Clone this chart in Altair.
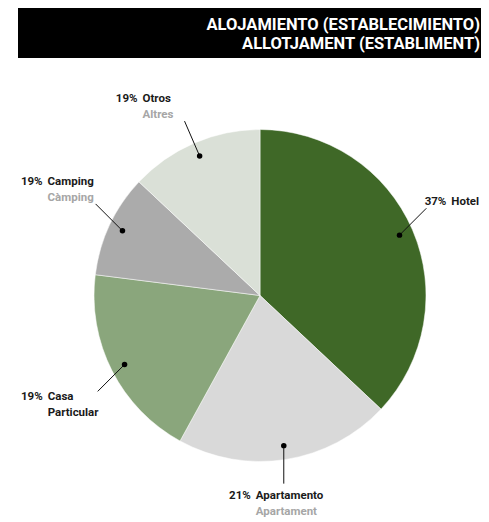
import altair as alt
import pandas as pd

# ---- data ----
names_es = ["Hotel", "Apartamento", "Casa", "Camping", "Otros"]
line2_text = ["", "Apartament", "Particular", "Càmping", "Altres"]
line2_is_name = [False, False, True, False, False]
values = [37, 21, 19, 10, 13]
pct_labels = ["37%", "21%", "19%", "19%", "19%"]
colors = ["#3f6827", "#d9d9d9", "#8aa67c", "#ababab", "#dae0d7"]
title_lines = ["ALOJAMIENTO (ESTABLECIMIENTO)", "ALLOTJAMENT (ESTABLIMENT)"]

W, H = 473, 514
CX, CY, R = 252, 287.5, 166
RD = 152      # radius of label dots
L = 38        # leader length
FONT = "Roboto"
FS = 11.5

df = pd.DataFrame({
    "name": names_es,
    "line2": line2_text,
    "l2color": ["#1a1a1a" if b else "#a6a6a6" for b in line2_is_name],
    "value": values,
    "pct": pct_labels,
    "idx": list(range(len(values))),
})

base = alt.Chart(df).transform_window(
    cum="sum(value)", sort=[alt.SortField("idx")], frame=[None, 0]
).transform_joinaggregate(total="sum(value)").transform_calculate(
    mid="(datum.cum - datum.value/2)/datum.total*2*PI",
    dotx=f"{CX} + {RD}*sin(datum.mid)",
    doty=f"{CY} - {RD}*cos(datum.mid)",
    snap="cos(datum.mid) > 0.9 ? datum.mid : round(datum.mid/(PI/4))*(PI/4)",
    ex=f"datum.dotx + {L}*sin(datum.snap)",
    ey=f"datum.doty - {L}*cos(datum.snap)",
    side="sin(datum.snap) > 0.3 ? 1 : (sin(datum.snap) < -0.3 ? -1 : 0)",
    up="cos(datum.snap) > 0 ? 1 : 0",
    mlen="max(length(datum.name), length(datum.line2))",
    nx="datum.side == 1 ? datum.ex + 25 : (datum.side == 0 ? datum.ex - 28 : "
       "(datum.up == 1 ? datum.ex - 6 - 6*datum.mlen : datum.ex + 6 - 5.6*datum.mlen))",
    ny="datum.side == 1 ? datum.ey - 6 : (datum.side == 0 ? datum.ey + 12 : "
       "(datum.up == 1 ? datum.ey - 22 : datum.ey + 6))",
    px="datum.nx - 5",
    ny2="datum.ny + 16",
)

pie = alt.Chart(df).mark_arc(radius=R, stroke="#ffffff", strokeWidth=0.5).encode(
    theta=alt.Theta("value:Q", stack=True),
    order=alt.Order("idx:Q"),
    color=alt.Color("name:N", scale=alt.Scale(domain=names_es, range=colors), legend=None),
    x=alt.value(CX),
    y=alt.value(CY),
)

leaders = base.mark_rule(color="#111111", strokeWidth=1).encode(
    x=alt.X("dotx:Q", scale=None, axis=None),
    y=alt.Y("doty:Q", scale=None, axis=None),
    x2="ex:Q",
    y2="ey:Q",
)

dots = base.mark_circle(color="#000000", size=30, opacity=1).encode(
    x=alt.X("dotx:Q", scale=None, axis=None),
    y=alt.Y("doty:Q", scale=None, axis=None),
)

pct_text = base.mark_text(align="right", baseline="middle", font=FONT, fontSize=FS,
                          fontWeight="bold", color="#1a1a1a").encode(
    x=alt.X("px:Q", scale=None, axis=None),
    y=alt.Y("ny:Q", scale=None, axis=None),
    text="pct:N",
)

name_text = base.mark_text(align="left", baseline="middle", font=FONT, fontSize=FS,
                           fontWeight="bold", color="#1a1a1a").encode(
    x=alt.X("nx:Q", scale=None, axis=None),
    y=alt.Y("ny:Q", scale=None, axis=None),
    text="name:N",
)

line2 = base.mark_text(align="left", baseline="middle", font=FONT, fontSize=FS,
                       fontWeight="bold").encode(
    x=alt.X("nx:Q", scale=None, axis=None),
    y=alt.Y("ny2:Q", scale=None, axis=None),
    text="line2:N",
    color=alt.Color("l2color:N", scale=None),
)

tdf = pd.DataFrame({"t": title_lines, "i": [0, 1]})
title_box = alt.Chart(tdf).mark_rect(color="#000000").encode(
    x=alt.value(10), x2=alt.value(W + 20), y=alt.value(-1), y2=alt.value(50)
)
title1 = alt.Chart(tdf).transform_filter("datum.i == 0").mark_text(
    align="right", baseline="alphabetic", font="Roboto", fontSize=16.5, fontWeight="bold",
    color="#ffffff").encode(x=alt.value(W - 1), y=alt.value(22), text="t:N")
title2 = alt.Chart(tdf).transform_filter("datum.i == 1").mark_text(
    align="right", baseline="alphabetic", font="Roboto", fontSize=16.5, fontWeight="bold",
    color="#ffffff").encode(x=alt.value(W - 1), y=alt.value(41), text="t:N")

chart = alt.layer(
    pie, leaders, dots, pct_text, name_text, line2, title_box, title1, title2
).properties(
    width=W, height=H, padding=0, autosize=alt.AutoSizeParams(type="none")
).configure_view(stroke=None)

chart.save("out.html", embed_options={"renderer": "svg", "actions": False})
